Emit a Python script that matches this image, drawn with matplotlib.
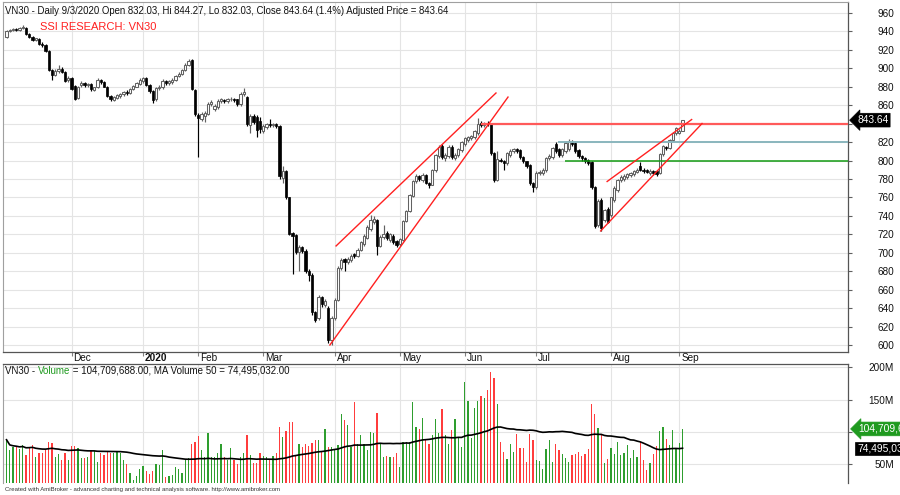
import numpy as np
import pandas as pd
import matplotlib
matplotlib.use("Agg")
import matplotlib.pyplot as plt
from matplotlib.transforms import blended_transform_factory

plt.rcParams['font.family'] = ['Liberation Sans', 'DejaVu Sans']

# ---------------- data ----------------
start_date = "2019-11-04"
end_date = "2020-09-03"
holidays = ["2020-01-01", "2020-01-23", "2020-01-24", "2020-01-27", "2020-01-28",
            "2020-01-29", "2020-04-02", "2020-04-30", "2020-05-01", "2020-09-02"]

opens = [
    # Nov
    934, 940, 941, 942, 941, 943, 943, 937, 934, 930, 931, 926, 925, 918, 898, 892, 897, 899, 896, 887,
    # Dec
    889, 881, 868, 882, 884, 882, 883, 876, 879, 887, 885, 880, 870, 865, 868, 870, 872, 874, 873, 877, 880, 883,
    # Jan
    886, 889, 882, 875, 866, 878, 879, 886, 884, 885, 887, 891, 894, 898, 903, 909, 876,
    # Feb
    849, 845, 848, 850, 861, 856, 858, 864, 865, 864, 866, 867, 866, 861, 872, 869, 838, 848, 847, 843,
    # Mar
    832, 836, 839, 838, 840, 837, 781, 789, 760, 722, 719, 701, 706, 702, 680, 676, 636, 630, 652, 644, 641, 606,
    # Apr
    630, 649, 684, 693, 690, 692, 699, 697, 703, 710, 716, 726, 733, 736, 708, 717, 722, 714, 718, 713,
    # May
    710, 714, 735, 745, 762, 778, 783, 779, 784, 776, 774, 790, 805, 816, 803, 805, 815, 803, 806, 811,
    # Jun
    818, 822, 824, 825, 830, 841, 838, 841, 840, 808, 779, 801, 800, 797, 806, 810, 812, 811, 804, 799, 795, 776,
    # Jul
    771, 786, 786, 790, 803, 804, 818, 812, 806, 810, 812, 820, 819, 811, 805, 803, 801, 798, 771, 730, 757, 736, 748,
    # Aug + Sep
    741, 757, 768, 779, 780, 782, 784, 785, 788, 794, 790, 790, 786, 789, 789, 786, 807, 815, 814, 822, 830, 830, 832.03,
]
closes = [
    940, 941, 942, 941, 943, 944, 937, 934, 930, 932, 926, 925, 918, 898, 892, 897, 899, 896, 886, 889,
    877, 867, 880, 884, 882, 883, 877, 879, 887, 885, 880, 870, 866, 869, 871, 872, 874, 873, 877, 881, 884, 887,
    889, 882, 875, 865, 878, 880, 886, 884, 886, 887, 891, 894, 898, 903, 908, 877, 850,
    846, 850, 851, 861, 863, 859, 864, 866, 864, 866, 867, 865, 861, 872, 874, 839, 848, 842, 833, 834,
    837, 839, 838, 839, 837, 783, 789, 760, 720, 718, 701, 706, 702, 680, 676, 636, 628, 652, 645, 648, 606, 630,
    649, 684, 692, 690, 694, 697, 697, 703, 712, 718, 728, 736, 737, 708, 717, 721, 716, 720, 712, 709,
    715, 735, 745, 763, 778, 783, 780, 784, 776, 774, 790, 806, 815, 804, 806, 815, 804, 806, 812, 820,
    824, 825, 826, 832, 840, 838, 840, 839, 808, 779, 802, 800, 797, 808, 810, 812, 810, 804, 799, 794, 776, 771,
    787, 788, 790, 803, 805, 814, 810, 806, 812, 819, 821, 818, 810, 805, 803, 800, 797, 771, 729, 756, 727, 746, 734,
    760, 770, 779, 782, 783, 785, 786, 789, 790, 790, 789, 788, 789, 786, 785, 807, 816, 813, 822, 830, 835, 832, 843.64,
]
highs = [
    941, 942, 943, 943, 944, 946, 944, 938, 935, 933, 932, 928, 926, 919, 899, 899, 903, 901, 897, 891,
    890, 882, 881, 886, 885, 884, 884, 880, 889, 888, 886, 881, 871, 870, 872, 873, 875, 876, 878, 882, 885, 889,
    890, 890, 883, 876, 879, 882, 888, 887, 887, 889, 892, 896, 899, 905, 910, 910, 877,
    851, 852, 853, 863, 865, 861, 866, 868, 867, 868, 869, 868, 867, 874, 878, 870, 850, 850, 849, 847,
    839, 841, 845, 841, 841, 838, 794, 790, 761, 723, 721, 709, 708, 704, 683, 678, 637, 655, 653, 650, 643, 632,
    651, 686, 695, 695, 696, 699, 700, 705, 713, 720, 730, 741, 740, 737, 719, 730, 724, 722, 720, 714,
    716, 736, 746, 764, 779, 785, 784, 786, 785, 777, 791, 807, 817, 818, 808, 817, 817, 808, 813, 821,
    825, 826, 828, 833, 846, 843, 842, 843, 841, 809, 810, 803, 801, 809, 812, 814, 813, 812, 805, 800, 796, 777,
    789, 790, 792, 804, 807, 815, 820, 813, 813, 820, 823, 822, 820, 812, 806, 804, 802, 799, 772, 758, 759, 748, 750,
    761, 772, 780, 784, 785, 787, 788, 790, 792, 798, 792, 791, 791, 790, 790, 808, 817, 816, 823, 831, 836, 834, 844.27,
]
lows = [
    933, 939, 940, 940, 940, 942, 936, 933, 929, 929, 925, 923, 917, 897, 887, 891, 895, 895, 885, 885,
    876, 865, 866, 880, 880, 880, 875, 875, 878, 883, 879, 869, 864, 864, 866, 868, 870, 871, 872, 876, 879, 882,
    884, 881, 873, 862, 864, 876, 877, 882, 882, 883, 886, 890, 893, 897, 902, 876, 848,
    804, 843, 842, 849, 859, 854, 856, 862, 862, 862, 864, 863, 859, 859, 870, 837, 830, 840, 825, 830,
    830, 834, 836, 836, 835, 780, 776, 758, 719, 677, 699, 680, 700, 678, 670, 633, 625, 628, 642, 642, 603, 600,
    628, 648, 682, 680, 688, 690, 695, 696, 702, 708, 715, 724, 731, 698, 706, 715, 714, 712, 710, 707,
    708, 713, 733, 744, 760, 776, 778, 777, 775, 770, 773, 788, 803, 802, 800, 803, 802, 801, 804, 809,
    816, 820, 822, 823, 828, 836, 836, 837, 806, 777, 778, 798, 790, 795, 804, 808, 808, 802, 797, 792, 774, 766,
    769, 784, 784, 788, 801, 802, 808, 804, 804, 808, 810, 816, 808, 803, 800, 797, 795, 769, 727, 728, 724, 734, 732,
    739, 755, 766, 777, 778, 780, 782, 783, 786, 789, 787, 786, 784, 784, 783, 785, 805, 811, 812, 820, 828, 829, 832.03,
]
# volume in millions of shares
volumes = [
    88, 72, 76, 76, 73, 80, 64, 77, 80, 62, 67, 68, 72, 84, 83, 61, 66, 56, 67, 57,
    78, 79, 75, 59, 59, 62, 70, 70, 54, 67, 64, 70, 67, 67, 69, 67, 56, 51, 37, 26, 32, 42,
    47, 40, 35, 39, 51, 49, 72, 31, 32, 34, 46, 43, 37, 57, 59, 82, 85,
    94, 72, 62, 99, 61, 61, 68, 81, 61, 56, 75, 56, 50, 61, 67, 96, 64, 52, 52, 67,
    63, 62, 57, 63, 68, 108, 92, 101, 116, 116, 63, 82, 77, 82, 79, 83, 87, 87, 70, 104, 76, 77,
    72, 80, 128, 119, 111, 77, 147, 81, 96, 81, 72, 100, 99, 129, 83, 61, 63, 61, 62, 67,
    46, 85, 85, 85, 147, 108, 104, 122, 87, 81, 96, 120, 98, 135, 96, 81, 102.9, 119.9, 92.6, 77.1,
    177.8, 147.8, 90.0, 136.5, 147.8, 156.1, 153.0, 164.9, 192.2, 184.0, 142.7, 84.9, 69.4, 58.0, 80.7, 68.4,
    96.2, 74.5, 74.5, 52.9, 97.3, 87.5,
    56.5, 55.0, 42.6, 73.5, 87.5, 52.9, 80.7, 72.0, 65.3, 60.1, 52.9, 64.2, 65.3, 69.4, 63.2, 65.3, 73.5,
    142.7, 127.2, 106.5, 95.2, 51.3, 58.0,
    75.6, 65.3, 84.9, 64.2, 66.8, 79.7, 60.1, 72.0, 61.6, 84.9, 56.5, 41.0, 51.3, 65.3, 78.7, 101.4, 108.1,
    89.0, 79.7, 102.9, 73.0, 82.3, 104.709688,
]

price_ticks = list(range(600, 961, 20))
hidden_price_tick = 840          # covered by the last-price box in the reference
volume_ticks = [50, 100, 150, 200]
volume_tick_labels = ["50M", "", "150M", "200M"]

# trend lines (bar index, price)
trend_x0 = [101.4, 99.5, 184.8, 182.8]
trend_y0 = [707.6, 600.5, 777.3, 723.8]
trend_x1 = [150.6, 154.3, 210.8, 214.0]
trend_y1 = [873.0, 868.6, 844.3, 840.0]
# horizontal levels
level_prices = [840, 820, 800]
level_start = [146.0, 169.7, 171.8]
level_colors = ["#ff5a5a", "#8ab6bd", "#139a13"]
level_widths = [1.6, 1.4, 1.1]

header_price = ("VN30 - Daily 9/3/2020 Open 832.03, Hi 844.27, Lo 832.03, "
                "Close 843.64 (1.4%) Adjusted Price = 843.64")
title_text = "SSI RESEARCH: VN30"
ma_reported = 74.495032

# ---------------- prep ----------------
dates = pd.bdate_range(start_date, end_date)
dates = dates[~dates.isin(pd.to_datetime(holidays))]
n = len(dates)
idx = np.arange(n)
o = np.array(opens, float)
c = np.array(closes, float)
h = np.array(highs, float)
l = np.array(lows, float)
vol = np.array(volumes, float)
ma = pd.Series(vol).rolling(50, min_periods=1).mean().values

months = dates.to_period("M")
month_pos = [i for i in range(1, n) if months[i] != months[i - 1]]
month_lab = ["2020" if dates[i].month == 1 else dates[i].strftime("%b") for i in month_pos]

# ---------------- figure ----------------
W, H = 900, 495
fig = plt.figure(figsize=(W / 100, H / 100), dpi=100)
fig.patch.set_facecolor("white")


def fx(px):
    return px / W


def fy(py):
    return 1 - py / H


ax = fig.add_axes([fx(3), fy(352.3), (848.3 - 3) / W, (352.3 - 2) / H])
ax2 = fig.add_axes([fx(3), fy(483), (848.3 - 3) / W, (483 - 364) / H])

xlim = (-1.08, 259.0)
grid_c = "#e4e4e4"

# price pane
ax.set_xlim(*xlim)
ax.set_ylim(592.6, 971.4)
ax.set_yticks(price_ticks)
ax.set_yticklabels(["" if t == hidden_price_tick else str(t) for t in price_ticks])
ax.set_xticks(month_pos)
ax.set_axisbelow(True)
ax.grid(True, color=grid_c, lw=0.8)
ax.yaxis.tick_right()
ax.tick_params(axis="y", length=3, width=0.8, color="#606060", pad=30, labelsize=7.2,
               labelcolor="#111111")
for t in ax.get_yticklabels():
    t.set_horizontalalignment("right")
ax.tick_params(axis="x", length=3, width=0.8, color="#808080", labelbottom=False)
for s in ["left", "top"]:
    ax.spines[s].set_color("#a0a0a0")
for s in ["right", "bottom"]:
    ax.spines[s].set_color("#555555")
    ax.spines[s].set_linewidth(0.9)

up = c >= o
ax.vlines(idx[up], l[up], h[up], color="#626262", lw=0.85, zorder=2)
ax.vlines(idx[~up], l[~up], h[~up], color="black", lw=0.85, zorder=2)
bb = np.minimum(o, c)
bh = np.maximum(np.abs(c - o), 0.7)
ax.bar(idx[up], bh[up], bottom=bb[up], width=0.72, facecolor="white", edgecolor="#626262",
       linewidth=0.75, zorder=2.1)
ax.bar(idx[~up], bh[~up], bottom=bb[~up], width=0.72, facecolor="black", edgecolor="black",
       linewidth=0.5, zorder=2.1)

for p, s, col, lw in zip(level_prices, level_start, level_colors, level_widths):
    ax.plot([s, xlim[1]], [p, p], color=col, lw=lw, zorder=3, solid_capstyle="butt")
for x0, y0, x1, y1 in zip(trend_x0, trend_y0, trend_x1, trend_y1):
    ax.plot([x0, x1], [y0, y1], color="#ff2020", lw=1.0, zorder=3.2)

# last price box
tr = blended_transform_factory(ax.transAxes, ax.transData)
ax.text((857 - 3) / 845.3, c[-1], f"{c[-1]:.2f}", transform=tr, ha="left", va="center",
        fontsize=7.4, color="white", clip_on=False, zorder=10,
        bbox=dict(boxstyle="larrow,pad=0.18", fc="black", ec="black", lw=0.5))

# volume pane
ax2.set_xlim(*xlim)
ax2.set_ylim(21.1, 205.1)
ax2.set_yticks(volume_ticks)
ax2.set_yticklabels(volume_tick_labels)
ax2.set_xticks(month_pos)
ax2.set_axisbelow(True)
ax2.grid(True, color=grid_c, lw=0.8)
ax2.yaxis.tick_right()
ax2.tick_params(axis="y", length=3, width=0.8, color="#606060", pad=30, labelsize=7.2,
                labelcolor="#111111")
for t in ax2.get_yticklabels():
    t.set_horizontalalignment("right")
ax2.tick_params(axis="x", length=0, labelbottom=False)
ax2.spines["left"].set_color("#a0a0a0")
ax2.spines["bottom"].set_visible(False)
for s in ["right", "top"]:
    ax2.spines[s].set_color("#555555")
    ax2.spines[s].set_linewidth(0.9)

vcol = np.where(up, "#2e9e2e", "#ff3c3c")
ax2.bar(idx, vol, width=0.42, color=vcol, zorder=2)
ax2.plot(idx, ma, color="black", lw=1.2, zorder=3)

tr2 = blended_transform_factory(ax2.transAxes, ax2.transData)
ax2.text((858 - 3) / 845.3, vol[-1], f"{vol[-1] * 1e6:,.2f}", transform=tr2, ha="left",
         va="center", fontsize=7.4, color="white", clip_on=False, zorder=10,
         bbox=dict(boxstyle="larrow,pad=0.18", fc="#1f9a1f", ec="#1f9a1f", lw=0.5))
ax2.text((857 - 3) / 845.3, ma_reported, f"{ma_reported * 1e6:,.2f}", transform=tr2, ha="left",
         va="center", fontsize=7.4, color="white", clip_on=False, zorder=10,
         bbox=dict(boxstyle="square,pad=0.18", fc="black", ec="black", lw=0.5))

# month labels
trm = blended_transform_factory(ax.transData, fig.transFigure)
for pos, lab in zip(month_pos, month_lab):
    ax.text(pos + 0.6, fy(358), lab, transform=trm, ha="left", va="center", fontsize=7.2,
            color="#111111", fontweight="bold" if lab == "2020" else "normal", clip_on=False)

# header texts
fig.text(fx(5), fy(10.5), header_price, ha="left", va="center", fontsize=6.9, color="#111111")
fig.text(fx(40), fy(27), title_text, ha="left", va="center", fontsize=8.0, color="#ff2020")

t1 = fig.text(fx(5), fy(370.5), "VN30 - ", ha="left", va="center", fontsize=7.0, color="#111111")
t2 = fig.text(0, 0, "Volume", fontsize=7.0, color="#1f9a1f", ha="left", va="baseline")
t3 = fig.text(0, 0, f" = {vol[-1] * 1e6:,.2f}, MA Volume 50 = {ma_reported * 1e6:,.2f}",
              fontsize=7.0, color="#111111", ha="left", va="baseline")
fig.canvas.draw()
r = fig.canvas.get_renderer()
bb1 = t1.get_window_extent(r)
t2.set_position((bb1.x1 / fig.bbox.width, (bb1.y0 + 2.0) / fig.bbox.height))
fig.canvas.draw()
bb2 = t2.get_window_extent(r)
t3.set_position((bb2.x1 / fig.bbox.width, t2.get_position()[1]))

fig.text(fx(5), fy(489), "Created with AmiBroker - advanced charting and technical analysis "
         "software. http://www.amibroker.com", ha="left", va="center", fontsize=4.3,
         color="#333333")

fig.savefig("out.png", dpi=100, facecolor="white")
